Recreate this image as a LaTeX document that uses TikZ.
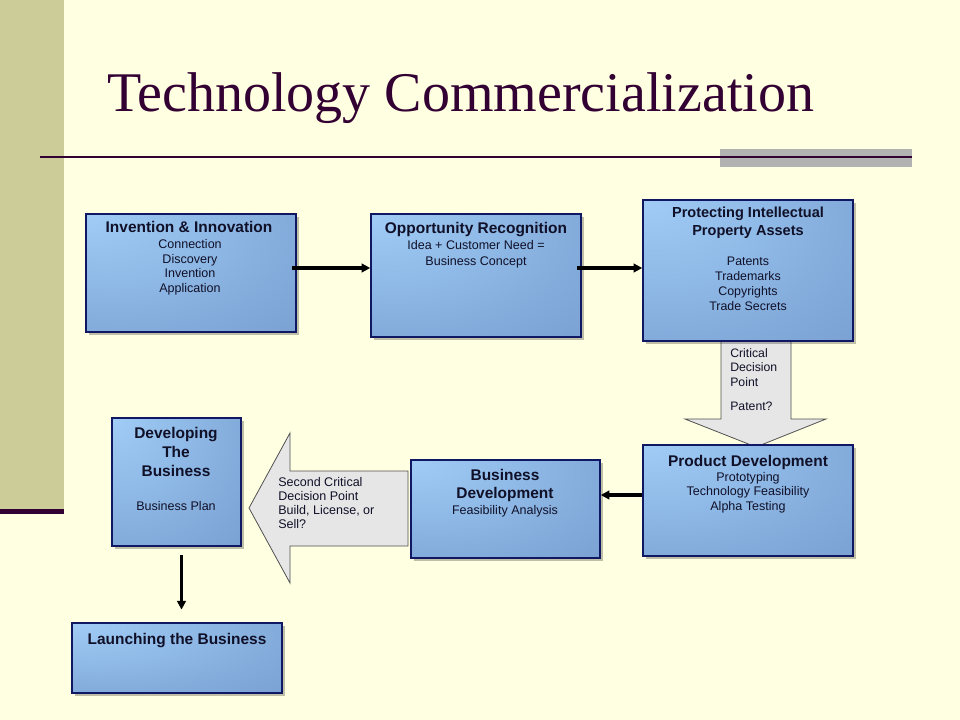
\documentclass[tikz,border=0pt]{standalone}
\usepackage{fontspec}
\setmainfont{Liberation Serif}
\setsansfont{Liberation Sans}
\usetikzlibrary{arrows.meta,shadows,fit}
\definecolor{bgc}{RGB}{255,255,225}
\definecolor{bandc}{RGB}{204,204,153}
\definecolor{purp}{RGB}{51,0,51}
\definecolor{grayrect}{RGB}{178,178,178}
\definecolor{bxlight}{RGB}{160,204,246}
\definecolor{bxmid}{RGB}{128,168,216}
\definecolor{bxdark}{RGB}{104,142,192}
\definecolor{bxborder}{RGB}{16,24,100}
\definecolor{txtc}{RGB}{16,16,40}
\definecolor{arrfill}{RGB}{230,230,230}
\definecolor{arrdraw}{RGB}{80,80,80}
\pgfdeclareradialshading{boxshade}{\pgfpoint{-25bp}{25bp}}{color(0bp)=(bxlight); color(45bp)=(bxmid); color(85bp)=(bxdark); color(120bp)=(bxdark)}
\tikzset{
  bx/.style={draw=bxborder, line width=1.1pt, shading=boxshade, inner sep=0pt,
    drop shadow={shadow xshift=2pt, shadow yshift=-2pt, fill=black, opacity=0.25}},
  ttl/.style={font=\sffamily\bfseries\fontsize{11.6}{13.7}\selectfont, text=txtc, inner sep=0pt, align=center, anchor=base},
  sub/.style={font=\sffamily\fontsize{9.4}{10.8}\selectfont, text=txtc, inner sep=0pt, align=center, anchor=base},
  note/.style={font=\sffamily\fontsize{9.2}{10.6}\selectfont, text=txtc, inner sep=0pt, align=left, anchor=base west},
  conn/.style={line width=2.3pt, -{Triangle[length=6.5pt,width=6.5pt]}},
  bigarrow/.style={fill=arrfill, draw=arrdraw, line width=0.6pt}
}
\begin{document}
\begin{tikzpicture}[x=0.75pt,y=-0.75pt]
\useasboundingbox (0,0) rectangle (960,720);
\fill[bgc] (0,0) rectangle (960,720);
\fill[bandc] (0,0) rectangle (64,512);
\fill[purp] (0,509) rectangle (64,514);
\node[anchor=base west, inner sep=0pt, text=purp, font=\rmfamily\fontsize{42}{50}\selectfont] (title) at (107,112) {Technology Commercialization};
\fill[grayrect] (720,149) rectangle (912,167);
\draw[purp, line width=1.6pt] (40,157) -- (912,157);

% decision arrows
\draw[bigarrow] (721,341) -- (791,341) -- (791,419) -- (826,419) -- (756,447) -- (685,419) -- (721,419) -- cycle;
\draw[bigarrow] (408,471) -- (408,546) -- (290,546) -- (290,583) -- (249,508) -- (290,433) -- (290,471) -- cycle;

% boxes
\node[bx, fit={(86,214)(296,332)}] (b1) {};
\node[bx, fit={(371,214)(581,337)}] (b2) {};
\node[bx, fit={(643,200)(853,341)}] (b3) {};
\node[bx, fit={(643,445)(853,556)}] (b4) {};
\node[bx, fit={(112,418)(241,546)}] (b5) {};
\node[bx, fit={(411,460)(600,558)}] (b6) {};
\node[bx, fit={(72,623)(282,693)}] (b7) {};

% texts (anchor = baseline of last line)
\node[ttl] (t1) at (189,233) {Invention \& Innovation};
\node[sub] (s1) at (190,292.2) {Connection\\Discovery\\Invention\\Application};
\node[ttl] (t2) at (476,234) {Opportunity Recognition};
\node[sub, font=\sffamily\fontsize{9.4}{12.5}\selectfont] (s2) at (476,265.7) {Idea + Customer Need =\\Business Concept};
\node[ttl, font=\sffamily\bfseries\fontsize{10.9}{13.5}\selectfont] (t3) at (748,236) {Protecting Intellectual\\Property Assets};
\node[sub, font=\sffamily\fontsize{9.3}{11.2}\selectfont] (s3) at (748,310.7) {Patents\\Trademarks\\Copyrights\\Trade Secrets};
\node[ttl] (t4) at (748,466) {Product Development};
\node[sub, font=\sffamily\fontsize{9.4}{10.6}\selectfont] (s4) at (748,510) {Prototyping\\Technology Feasibility\\Alpha Testing};
\node[ttl, font=\sffamily\bfseries\fontsize{11.6}{14.2}\selectfont] (t5) at (176,476.6) {Developing\\The\\Business};
\node[sub] (s5) at (176,510.7) {Business Plan};
\node[ttl] (t6) at (505,498.6) {Business\\Development};
\node[sub] (s6) at (505,514.8) {Feasibility Analysis};
\node[ttl] (t7) at (177,644) {Launching the Business};
\node[note] (d1) at (730,386) {Critical\\Decision\\Point};
\node[note] (d2) at (730,410) {Patent?};
\node[note, font=\sffamily\fontsize{9.4}{10.5}\selectfont] (d3) at (278,528) {Second Critical\\Decision Point\\Build, License, or\\Sell?};

% connectors
\draw[conn, shorten <=-3.75pt] (b1.east |- 0,268) -- (b2.west |- 0,268);
\draw[conn, shorten <=-3.75pt] (b2.east |- 0,268) -- (b3.west |- 0,268);
\draw[conn] (b4.west |- 0,495) -- (b6.east |- 0,495);
\draw[conn, shorten <=6.5pt, shorten >=9.5pt] ([xshift=3.75pt]b5.south) -- ([xshift=3.75pt]b5.south |- b7.north);
\end{tikzpicture}
\end{document}
